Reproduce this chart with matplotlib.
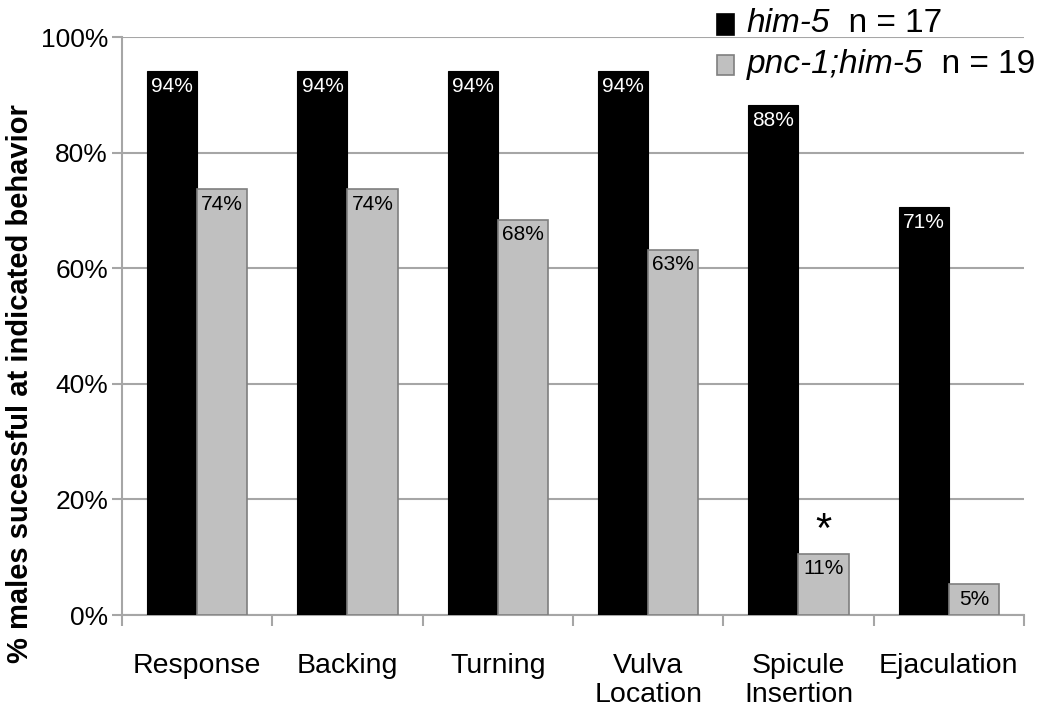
import numpy as np
import matplotlib.pyplot as plt
from matplotlib.patches import Rectangle

plt.rcParams['font.family'] = ['Liberation Sans', 'DejaVu Sans']

categories = ["Response", "Backing", "Turning", "Vulva\nLocation", "Spicule\nInsertion", "Ejaculation"]
him5 = [94.1, 94.1, 94.1, 94.1, 88.2, 70.6]      # % successful, him-5 (n = 17)
pnc1 = [73.7, 73.7, 68.4, 63.2, 10.6, 5.3]       # % successful, pnc-1;him-5 (n = 19)
yticks = [0, 20, 40, 60, 80, 100]

grid_c = '#a6a6a6'
black_c = '#000000'
gray_c = '#c0c0c0'

fig = plt.figure(figsize=(10.5, 7.19), dpi=100)
ax = fig.add_axes([0.1162, 0.1446, 0.8590, 0.8039])

x = np.arange(len(categories))
w = 1 / 3
ax.bar(x - w / 2, him5, w, color=black_c, edgecolor=black_c, linewidth=0.8, zorder=3)
ax.bar(x + w / 2, pnc1, w, color=gray_c, edgecolor='#7f7f7f', linewidth=1.2, zorder=3)

for xi, v in zip(x, him5):
    ax.annotate(f"{v:.0f}%", (xi - w / 2, v), xytext=(0, -4), textcoords='offset points',
                ha='center', va='top', color='white', fontsize=15, zorder=4)
for xi, v in zip(x, pnc1):
    ax.annotate(f"{v:.0f}%", (xi + w / 2, v), xytext=(0, -4), textcoords='offset points',
                ha='center', va='top', color='black', fontsize=15, zorder=4)

# significance mark over spicule insertion
ax.annotate("*", (x[4] + w / 2, pnc1[4]), xytext=(0, 2), textcoords='offset points',
            ha='center', va='bottom', fontsize=30, color='black')

ax.set_xlim(-0.5, len(categories) - 0.5)
ax.set_ylim(0, 100)
ax.set_yticks(yticks)
ax.set_yticklabels([f"{t}%" for t in yticks], fontsize=19)
ax.yaxis.grid(True, color=grid_c, linewidth=1.5, zorder=0)
ax.tick_params(axis='y', length=7, width=1.5, color=grid_c, pad=3)

ax.set_xticks(x)
ax.set_xticklabels(categories, fontsize=20.5, linespacing=1.15)
ax.set_xticks(np.arange(len(categories) + 1) - 0.5, minor=True)
ax.tick_params(axis='x', which='major', length=0, pad=27)
ax.tick_params(axis='x', which='minor', length=8, width=1.5, color=grid_c)

for s in ['top', 'right']:
    ax.spines[s].set_visible(False)
for s in ['left', 'bottom']:
    ax.spines[s].set_color(grid_c)
    ax.spines[s].set_linewidth(1.5)

ax.set_ylabel("% males sucessful at indicated behavior", fontsize=21, fontweight='bold')
ax.yaxis.set_label_coords(-0.098, 0.40)

# legend drawn by hand so the strain names can be italic
legend_rows = [("him-5", "  n = 17", black_c, black_c),
               ("pnc-1;him-5", "  n = 19", gray_c, '#7f7f7f')]
row_y = [0.955, 0.899]
for (name, nstr, fc, ec), yy in zip(legend_rows, row_y):
    fig.add_artist(Rectangle((0.683, yy - 0.003), 0.016, 0.028, transform=fig.transFigure,
                             facecolor=fc, edgecolor=ec, linewidth=1.2))
    t = fig.text(0.711, yy, name, fontsize=24, style='italic', va='baseline')
    ax.annotate(nstr, xy=(1, 0), xycoords=t, fontsize=24, va='bottom', ha='left',
                annotation_clip=False)

fig.savefig("out.png", dpi=100)
